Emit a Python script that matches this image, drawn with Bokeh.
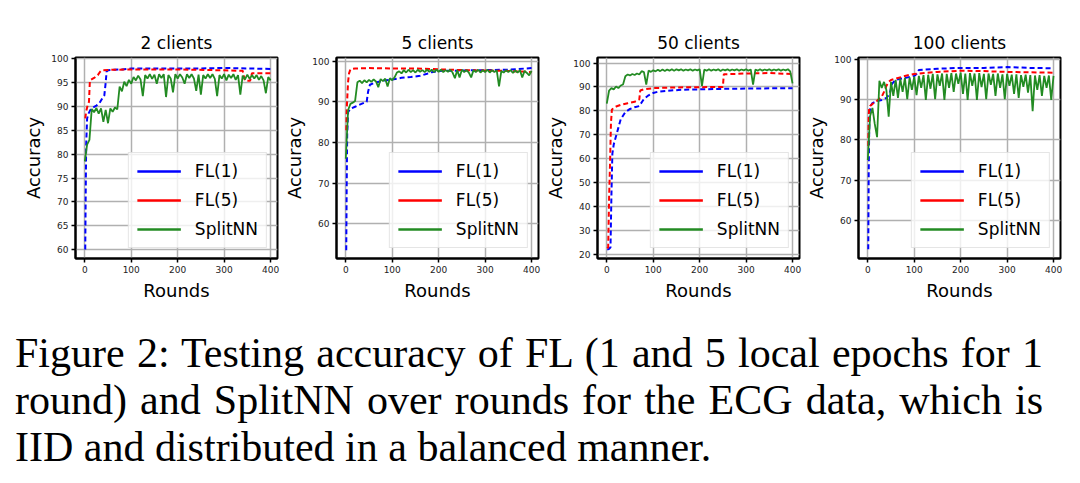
from bokeh.plotting import figure
from bokeh.layouts import row, column
from bokeh.models import Range1d, FixedTicker, Div, Spacer
from bokeh.embed import file_html
from bokeh.resources import INLINE

# ---------------- data ----------------
titles = ["2 clients", "5 clients", "50 clients", "100 clients"]
series_names = ["FL(1)", "FL(5)", "SplitNN"]
x_ticks = [0, 100, 200, 300, 400]
y_ticks_2 = [60, 65, 70, 75, 80, 85, 90, 95, 100]
y_ticks_5 = [60, 70, 80, 90, 100]
y_ticks_50 = [20, 30, 40, 50, 60, 70, 80, 90, 100]
y_ticks_100 = [60, 70, 80, 90, 100]

# rounds at which the SplitNN curves were read (every 5 rounds)
rounds_g = list(range(0, 401, 5))

# 2 clients
fl1_2_x = [1, 2, 3, 5, 8, 12, 18, 25, 32, 38, 42, 45, 47, 50, 60, 80, 100, 150, 200, 250, 300, 350, 400]
fl1_2_y = [60, 72, 82, 87.5, 88.5, 89.3, 89.8, 90.2, 90.8, 91.8, 92.3, 95, 97.4, 97.6, 97.7, 97.8, 98, 98, 98, 98, 98.1, 98, 97.9]
fl5_2_x = [1, 3, 6, 9, 11, 13, 20, 28, 33, 36, 50, 100, 200, 300, 340, 345, 356, 360, 400]
fl5_2_y = [87.5, 89, 90.2, 91, 95.5, 95.6, 96, 96.6, 97.3, 97.6, 97.7, 97.8, 97.8, 97.6, 97.5, 95.4, 95.4, 97, 97]
split_2 = [78.5, 82.0, 83.0, 89.5, 88.8, 89.7, 88.5, 89.6, 86.8, 89.3,
           86.5, 89.6, 88.9, 89.8, 89.4, 94.2, 93.2, 95.2, 94.3, 95.6,
           94.8, 96.2, 95.5, 96.5, 95.7, 92.2, 96.6, 95.9, 96.8, 95.8,
           96.7, 94.8, 96.8, 96.0, 96.8, 92.0, 96.6, 95.9, 93.0, 96.8,
           95.9, 96.8, 96.1, 94.8, 96.8, 96.0, 96.8, 95.9, 93.3, 96.7,
           92.5, 96.6, 95.9, 96.8, 96.0, 96.8, 95.8, 92.2, 96.6, 95.9,
           96.8, 95.5, 96.7, 96.0, 96.8, 95.6, 96.6, 92.5, 96.5, 95.7,
           96.7, 95.8, 96.6, 95.9, 96.6, 95.6, 96.4, 95.5, 92.8, 96.2,
           95.5]

# 5 clients
fl1_5_x = [1, 2, 3, 5, 10, 20, 30, 40, 45, 48, 52, 60, 80, 100, 120, 140, 160, 175, 185, 200, 250, 300, 350, 400]
fl1_5_y = [53.5, 70, 82, 87.5, 88.3, 88.8, 89.3, 89.8, 90, 92.5, 94.2, 94.6, 95.2, 95.5, 95.9, 96.1, 96.4, 96.9, 97.3, 97.6, 97.7, 97.8, 97.9, 98.3]
fl5_5_x = [1, 2, 3, 5, 7, 10, 20, 50, 100, 150, 200, 250, 300, 350, 400]
fl5_5_y = [83, 88, 90.5, 95, 97, 98, 98.2, 98.3, 98.2, 98.2, 98, 97.8, 97.7, 97.6, 97.3]
split_5 = [76.0, 88.0, 89.5, 89.8, 90.2, 94.8, 95.2, 94.6, 95.3, 94.8,
           95.4, 94.9, 95.5, 95.0, 93.6, 95.6, 95.1, 95.7, 93.8, 95.8,
           95.3, 96.0, 97.2, 97.5, 97.0, 97.8, 97.2, 97.9, 97.3, 97.8,
           97.2, 97.9, 97.4, 97.8, 97.3, 97.9, 97.4, 97.9, 97.3, 97.9,
           97.4, 97.9, 97.3, 97.8, 97.4, 97.9, 97.2, 95.8, 97.8, 96.0,
           97.9, 97.3, 97.8, 97.2, 96.0, 97.8, 97.3, 97.9, 97.2, 97.8,
           97.3, 97.9, 97.2, 97.8, 97.3, 97.8, 93.8, 97.6, 97.2, 97.8,
           97.3, 97.8, 97.1, 97.7, 97.2, 97.8, 96.0, 97.6, 97.1, 96.5,
           97.6]

# 50 clients
fl1_50_x = [1, 5, 8, 10, 12, 15, 20, 25, 30, 40, 50, 60, 70, 75, 80, 90, 100, 110, 130, 160, 200, 250, 300, 350, 400]
fl1_50_y = [22, 22.3, 23, 45, 62, 66, 69.5, 73, 76.5, 79.5, 80.8, 81.5, 82, 83.5, 85, 86.5, 87.5, 88, 88.4, 88.8, 89, 89.2, 89.3, 89.4, 89.5]
fl5_50_x = [1, 3, 5, 7, 9, 11, 15, 20, 30, 45, 60, 70, 72, 80, 100, 150, 200, 250, 252, 300, 350, 400]
fl5_50_y = [22.5, 23, 44, 58, 75, 80.5, 81.3, 81.8, 82.5, 83.2, 83.8, 84.8, 88.5, 89, 89.5, 89.8, 89.9, 90, 95.3, 95.6, 95.8, 95.4]
split_50 = [83.0, 88.5, 89.5, 89.0, 90.2, 89.5, 90.6, 91.0, 94.5, 95.2,
            94.8, 95.4, 95.0, 95.6, 95.2, 96.6, 96.2, 91.0, 96.8, 96.3,
            97.0, 96.5, 97.2, 96.6, 97.3, 96.7, 97.3, 96.8, 97.4, 96.8,
            97.4, 96.9, 97.4, 96.8, 97.3, 96.9, 97.4, 96.8, 97.3, 96.9,
            97.4, 90.4, 97.2, 96.8, 97.4, 96.8, 97.3, 96.9, 97.4, 96.7,
            97.3, 96.9, 97.4, 96.8, 97.3, 96.9, 97.4, 96.8, 97.3, 96.9,
            97.4, 96.8, 97.3, 91.0, 97.2, 96.8, 97.4, 96.8, 97.3, 96.9,
            97.4, 96.8, 97.3, 96.9, 97.4, 96.8, 97.3, 96.9, 97.4, 96.5,
            91.5]

# 100 clients
fl1_100_x = [1, 2, 3, 4, 6, 10, 20, 30, 40, 45, 48, 52, 60, 80, 100, 105, 110, 150, 200, 250, 300, 350, 400]
fl1_100_y = [52.7, 72, 82, 87, 88.5, 89.2, 89.7, 90, 90.5, 91.2, 92, 94, 95, 95.5, 96, 96.5, 97.5, 97.8, 98, 98, 98.2, 98, 97.9]
fl5_100_x = [1, 2, 3, 5, 10, 20, 30, 35, 40, 45, 50, 60, 80, 100, 150, 200, 250, 300, 350, 400]
fl5_100_y = [78.5, 86, 88, 88.5, 89, 89.8, 90.8, 92, 93.5, 94.5, 95, 95.3, 96, 96.5, 97, 97.3, 97.2, 97, 96.9, 96.8]
split_100 = [75.0, 86.0, 88.0, 84.0, 80.7, 94.8, 93.0, 94.5, 92.5, 85.8,
             94.5, 91.0, 95.0, 90.5, 95.3, 92.0, 95.5, 90.2, 95.6, 92.5,
             95.8, 91.2, 96.0, 93.0, 96.2, 90.0, 96.3, 92.8, 96.5, 90.2,
             96.4, 93.5, 96.6, 90.0, 96.5, 93.0, 96.7, 92.0, 96.6, 94.0,
             96.8, 91.5, 96.6, 90.0, 96.7, 93.5, 96.6, 90.0, 96.7, 93.2,
             96.5, 90.2, 96.6, 93.8, 96.5, 91.0, 96.6, 93.0, 96.4, 90.2,
             96.5, 93.5, 96.3, 91.5, 96.4, 90.5, 96.2, 93.3, 96.3, 91.8,
             96.2, 87.2, 96.1, 92.5, 96.2, 91.0, 96.0, 93.0, 96.1, 90.0,
             96.0]

caption_lines = [
    "Figure 2: Testing accuracy of FL (1 and 5 local epochs for 1",
    "round) and SplitNN over rounds for the ECG data, which is",
    "IID and distributed in a balanced manner.",
]

# ---------------- styling ----------------
COL_FL1 = "#0000ff"
COL_FL5 = "#ff0000"
COL_SPLIT = "#238b23"
FONT = "DejaVu Sans"
NAN = float("nan")


def panel(title, y_lo, y_hi, y_ticks, b_x, b_y, r_x, r_y, g_y):
    p = figure(width=261, height=302, x_range=Range1d(-20, 415), y_range=Range1d(y_lo, y_hi),
               output_backend="svg", toolbar_location=None, title=title,
               min_border_left=55, min_border_right=4, min_border_top=49, min_border_bottom=52)
    p.background_fill_color = "white"
    p.border_fill_color = "white"
    p.title.align = "center"
    p.title.text_font = FONT
    p.title.text_font_size = "17px"
    p.title.text_font_style = "normal"
    p.title.text_color = "black"
    p.outline_line_color = "black"
    p.outline_line_width = 2
    p.outline_line_alpha = 1

    p.xaxis.ticker = FixedTicker(ticks=x_ticks)
    p.yaxis.ticker = FixedTicker(ticks=y_ticks)
    p.xaxis.axis_label = "Rounds"
    p.yaxis.axis_label = "Accuracy"
    for ax in (p.xaxis[0], p.yaxis[0]):
        ax.axis_line_color = "black"
        ax.axis_line_width = 2
        ax.major_tick_out = 4
        ax.major_tick_in = 0
        ax.major_tick_line_width = 1.5
        ax.major_tick_line_color = "black"
        ax.minor_tick_line_color = None
        ax.major_label_text_font = FONT
        ax.major_label_text_font_size = "9px"
        ax.major_label_text_color = "#222222"
        ax.major_label_standoff = 3
        ax.axis_label_text_font = FONT
        ax.axis_label_text_font_size = "18px"
        ax.axis_label_text_font_style = "normal"
        ax.axis_label_text_color = "black"
        ax.axis_label_standoff = 4
    p.grid.grid_line_color = "#b0b0b0"
    p.grid.grid_line_width = 1.5

    p.line(b_x, b_y, color=COL_FL1, line_width=2, line_dash="5 3")
    p.line(r_x, r_y, color=COL_FL5, line_width=2, line_dash="5 3")
    p.line(rounds_g, g_y, color=COL_SPLIT, line_width=1.8)

    # legend entries (solid strokes as in the original legend)
    p.line(x=[NAN], y=[NAN], color=COL_FL1, line_width=2.5, legend_label=series_names[0])
    p.line(x=[NAN], y=[NAN], color=COL_FL5, line_width=2.5, legend_label=series_names[1])
    p.line(x=[NAN], y=[NAN], color=COL_SPLIT, line_width=2.5, legend_label=series_names[2])
    lg = p.legend[0]
    lg.location = "bottom_right"
    lg.border_line_color = "#cccccc"
    lg.border_line_width = 1
    lg.background_fill_color = "white"
    lg.background_fill_alpha = 0.8
    lg.label_text_font = FONT
    lg.label_text_font_size = "17px"
    lg.label_text_color = "black"
    lg.glyph_width = 44
    lg.glyph_height = 20
    lg.label_standoff = 14
    lg.spacing = 9
    lg.padding = 8
    lg.margin = 10
    return p


p1 = panel(titles[0], 58.1, 100.3, y_ticks_2, fl1_2_x, fl1_2_y, fl5_2_x, fl5_2_y, split_2)
p2 = panel(titles[1], 51.5, 100.9, y_ticks_5, fl1_5_x, fl1_5_y, fl5_5_x, fl5_5_y, split_5)
p3 = panel(titles[2], 18.3, 102.3, y_ticks_50, fl1_50_x, fl1_50_y, fl5_50_x, fl5_50_y, split_50)
p4 = panel(titles[3], 50.4, 100.6, y_ticks_100, fl1_100_x, fl1_100_y, fl5_100_x, fl5_100_y, split_100)

line_style_full = "width:1028px;text-align:justify;text-align-last:justify;"
line_style_last = "width:1028px;text-align:left;"
caption_html = '<div style="padding-left:10px;">' + "".join(
    '<div style="%s">%s</div>' % (line_style_full if i < len(caption_lines) - 1 else line_style_last, t)
    for i, t in enumerate(caption_lines)
) + "</div>"
caption = Div(text=caption_html, width=1060, height=141,
              styles={"font-family": "'Liberation Serif', 'Times New Roman', serif",
                      "font-size": "42px", "line-height": "47px", "color": "black"})

layout = column(Spacer(width=10, height=8),
                row(Spacer(width=20, height=302), p1, p2, p3, p4),
                Spacer(width=10, height=15),
                caption)

with open("out.html", "w") as f:
    f.write(file_html(layout, INLINE, title="Figure 2"))
